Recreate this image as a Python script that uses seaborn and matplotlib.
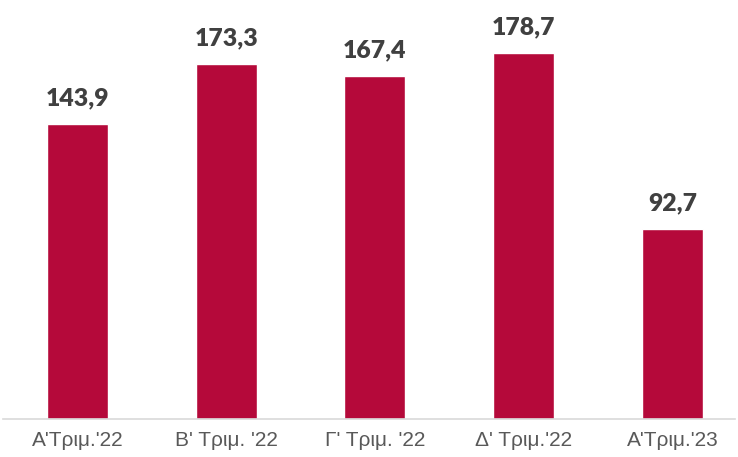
import matplotlib
matplotlib.use("Agg")
import matplotlib.pyplot as plt
import seaborn as sns
import pandas as pd

categories = ["A'Τριμ.'22", "B' Τριμ. '22", "Γ' Τριμ. '22", "Δ' Τριμ.'22", "A'Τριμ.'23"]
values = [143.9, 173.3, 167.4, 178.7, 92.7]
labels = ["143,9", "173,3", "167,4", "178,7", "92,7"]

sns.set_theme(style="white")
plt.rcParams['font.family'] = ['Liberation Sans', 'DejaVu Sans']

df = pd.DataFrame({"cat": categories, "val": values})

fig = plt.figure(figsize=(7.38, 4.57), dpi=100)
ax = fig.add_axes([3/738, 38/457, 732/738, 419/457])
sns.barplot(data=df, x="cat", y="val", color="#B5093A", saturation=1, width=0.41, ax=ax)

ax.set_xlim(-0.5, 4.42)
ax.set_ylim(0, 204.4)
for i, (v, lab) in enumerate(zip(values, labels)):
    ax.text(i, v + 7.0, lab, ha="center", va="bottom", fontsize=17.8,
            fontweight="heavy", color="#404040", family=['Lato', 'DejaVu Sans'])

for s in ["top", "right", "left"]:
    ax.spines[s].set_visible(False)
ax.spines["bottom"].set_color("#D9D9D9")
ax.spines["bottom"].set_linewidth(1.2)
ax.set_yticks([])
ax.set_xlabel("")
ax.set_ylabel("")
ax.tick_params(axis="x", length=0, pad=9, labelsize=15, labelcolor="#595959")

fig.savefig("out.png", dpi=100)
